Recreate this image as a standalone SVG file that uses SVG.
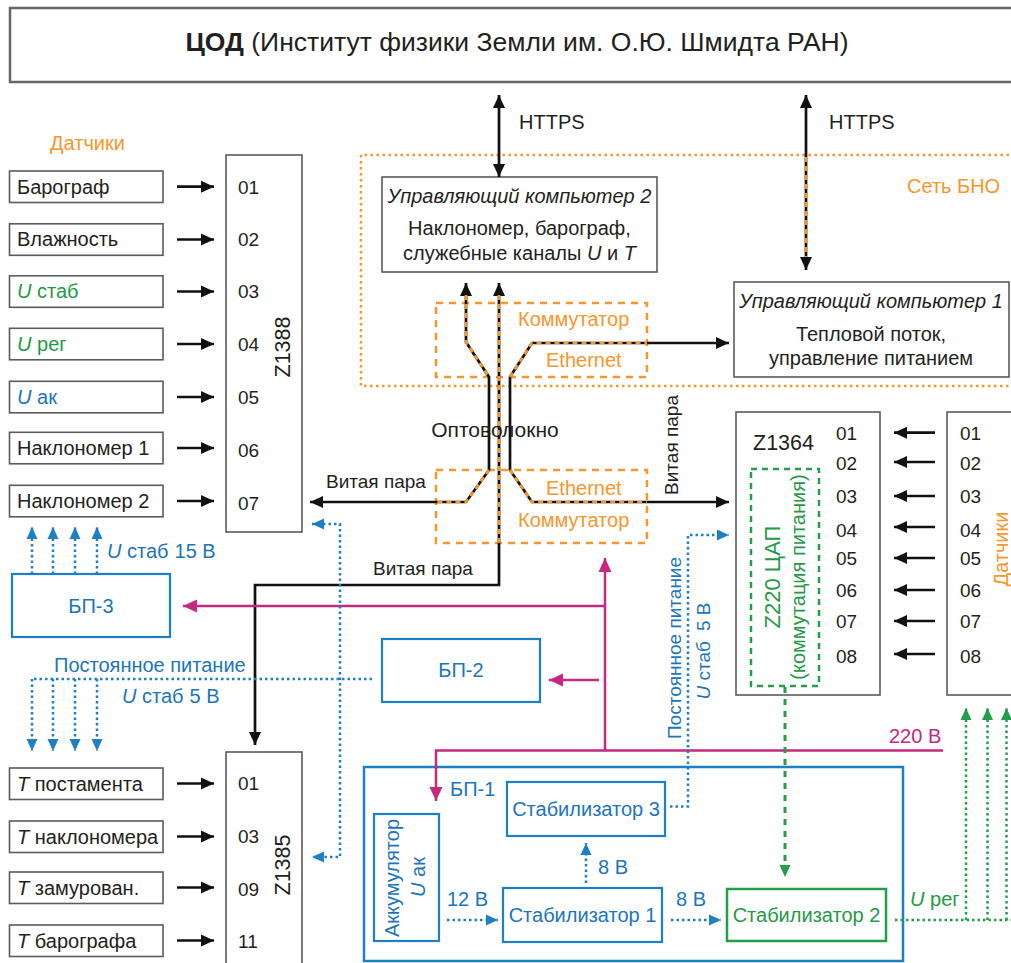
<svg xmlns="http://www.w3.org/2000/svg" width="1011" height="963" viewBox="0 0 1011 963">
<style>
text{font-family:"Liberation Sans",Arial,Helvetica,sans-serif;font-size:20px;fill:#231f20}
.n{font-size:19px}
.z{font-size:21.5px}
.s19{font-size:19px}
.or{fill:#f7962b}
.bl{fill:#1b75bc}
.gr{fill:#1f9a45}
.mg{fill:#c4287f}
.it{font-style:italic}
.mid{text-anchor:middle}
.box{fill:#fff;stroke:#5b5b5b;stroke-width:1.6}
.bbox{fill:#fff;stroke:#1d7fc4;stroke-width:2.2}
.gbox{fill:#fff;stroke:#21a049;stroke-width:2.5}
.odash{fill:none;stroke:#f7962b;stroke-width:2.5;stroke-dasharray:7 6}
.gdbox{fill:none;stroke:#21a049;stroke-width:2.5;stroke-dasharray:6 5}
.odot{fill:none;stroke:#f7962b;stroke-width:2.5;stroke-dasharray:2.5 3.5}
.blk{fill:none;stroke:#111;stroke-width:2.7}
.ov{fill:none;stroke:#f7962b;stroke-width:2.7;stroke-dasharray:5 4}
.bdot{fill:none;stroke:#1d7fc4;stroke-width:2.5;stroke-dasharray:2.5 3}
.gdot{fill:none;stroke:#21a049;stroke-width:2.5;stroke-dasharray:2.5 3}
.gdash{fill:none;stroke:#21a049;stroke-width:3;stroke-dasharray:6 6}
.mag{fill:none;stroke:#c4287f;stroke-width:2.5}
</style>
<defs>
<marker id="mk" viewBox="0 0 13 13" refX="13" refY="6.5" markerWidth="13" markerHeight="13" markerUnits="userSpaceOnUse" orient="auto-start-reverse"><path d="M0,0.5L13,6.5L0,12.5z" fill="#111"/></marker>
<marker id="mb" viewBox="0 0 12 12" refX="12" refY="6" markerWidth="12" markerHeight="12" markerUnits="userSpaceOnUse" orient="auto-start-reverse"><path d="M0,0.5L12,6L0,11.5z" fill="#1d7fc4"/></marker>
<marker id="mgr" viewBox="0 0 12 12" refX="12" refY="6" markerWidth="12" markerHeight="12" markerUnits="userSpaceOnUse" orient="auto-start-reverse"><path d="M0,0.5L12,6L0,11.5z" fill="#21a049"/></marker>
<marker id="mm" viewBox="0 0 14 14" refX="14" refY="7" markerWidth="14" markerHeight="14" markerUnits="userSpaceOnUse" orient="auto-start-reverse"><path d="M0,0.5L14,7L0,13.5z" fill="#c4287f"/></marker>
</defs>

<rect width="1011" height="963" fill="#fff"/>

<g id="title">
<rect x="10" y="8" width="1010" height="74" fill="#fff" stroke="#666" stroke-width="2.5"/>
<text x="517" y="51" class="mid" style="font-size:26.5px"><tspan font-weight="bold">ЦОД</tspan> (Институт физики Земли им. О.Ю. Шмидта РАН)</text>
</g>

<g id="net-bno">
<path class="odot" d="M1015,155H361V386H1015"/>
<text x="907" y="193" class="or">Сеть БНО</text>
</g>

<g id="switch-top">
<rect class="odash" x="436" y="303" width="211" height="74"/>
<text x="518" y="326" class="or">Коммутатор</text>
<text x="546" y="367" class="or">Ethernet</text>
</g>
<g id="switch-bottom">
<rect class="odash" x="436" y="470" width="211" height="73"/>
<text x="546" y="495" class="or">Ethernet</text>
<text x="518" y="527" class="or">Коммутатор</text>
</g>

<g id="pc2">
<rect class="box" x="382" y="177" width="275" height="95"/>
<text x="519.5" y="203" class="mid it">Управляющий компьютер 2</text>
<text x="519.5" y="235" class="mid">Наклономер, барограф,</text>
<text x="519.5" y="260" class="mid">служебные каналы <tspan class="it">U</tspan> и <tspan class="it">T</tspan></text>
</g>

<g id="pc1">
<rect class="box" x="734" y="282" width="275" height="95"/>
<text x="871" y="308" class="mid it">Управляющий компьютер 1</text>
<text x="871" y="341" class="mid">Тепловой поток,</text>
<text x="871" y="365" class="mid">управление питанием</text>
</g>

<g id="sensors-left">
<text x="50" y="150" class="or">Датчики</text>
<rect class="box" x="9.5" y="171" width="153.5" height="31.5"/>
<text x="17" y="193.5">Барограф</text>
<rect class="box" x="9.5" y="223.8" width="153.5" height="31.5"/>
<text x="17" y="246.3">Влажность</text>
<rect class="box" x="9.5" y="275.8" width="153.5" height="31.5"/>
<text x="17" y="298.3" class="gr"><tspan class="it">U</tspan> стаб</text>
<rect class="box" x="9.5" y="328.3" width="153.5" height="31.5"/>
<text x="17" y="350.8" class="gr"><tspan class="it">U</tspan> рег</text>
<rect class="box" x="9.5" y="381.3" width="153.5" height="31.5"/>
<text x="17" y="403.8" class="bl"><tspan class="it">U</tspan> ак</text>
<rect class="box" x="9.5" y="432.3" width="153.5" height="31.5"/>
<text x="17" y="454.8">Наклономер 1</text>
<rect class="box" x="9.5" y="485.3" width="153.5" height="31.5"/>
<text x="17" y="507.8">Наклономер 2</text>
</g>

<g id="z1388">
<rect class="box" x="226" y="155" width="76" height="377"/>
<text x="238" y="193.5" class="n">01</text>
<text x="238" y="245.5" class="n">02</text>
<text x="238" y="298" class="n">03</text>
<text x="238" y="351" class="n">04</text>
<text x="238" y="404" class="n">05</text>
<text x="238" y="457" class="n">06</text>
<text x="238" y="510" class="n">07</text>
<text transform="translate(290,347) rotate(-90)" class="mid z">Z1388</text>
</g>

<g id="bp3">
<rect class="bbox" x="12" y="574" width="158" height="63"/>
<text x="91" y="613" class="mid bl">БП-3</text>
</g>

<g id="bp2">
<rect class="bbox" x="382" y="639" width="158" height="63"/>
<text x="461" y="677" class="mid bl">БП-2</text>
</g>

<g id="sensors-bottom">
<rect class="box" x="9.5" y="768" width="153.5" height="31.5"/>
<text x="17" y="790.5"><tspan class="it">T</tspan> постамента</text>
<rect class="box" x="9.5" y="821" width="153.5" height="31.5"/>
<text x="17" y="843.5"><tspan class="it">T</tspan> наклономера</text>
<rect class="box" x="9.5" y="872" width="153.5" height="31.5"/>
<text x="17" y="894.5"><tspan class="it">T</tspan> замурован.</text>
<rect class="box" x="9.5" y="925" width="153.5" height="31.5"/>
<text x="17" y="947.5"><tspan class="it">T</tspan> барографа</text>
</g>

<g id="z1385">
<rect class="box" x="226" y="752" width="76" height="220"/>
<text x="238" y="790" class="n">01</text>
<text x="238" y="843" class="n">03</text>
<text x="238" y="896" class="n">09</text>
<text x="238" y="947.5" class="n">11</text>
<text transform="translate(290,865) rotate(-90)" class="mid z">Z1385</text>
</g>

<g id="z1364">
<rect class="box" x="736" y="412" width="144" height="283"/>
<text x="753" y="449.5" class="z">Z1364</text>
<text x="836" y="439.5" class="n">01</text>
<text x="836" y="469.7" class="n">02</text>
<text x="836" y="502.7" class="n">03</text>
<text x="836" y="536.7" class="n">04</text>
<text x="836" y="564.7" class="n">05</text>
<text x="836" y="596.7" class="n">06</text>
<text x="836" y="628.4" class="n">07</text>
<text x="836" y="662.7" class="n">08</text>
<rect class="gdbox" x="751" y="469" width="68" height="217"/>
<text transform="translate(780,577) rotate(-90)" class="mid gr" style="font-size:22px">Z220 ЦАП</text>
<text transform="translate(805,577) rotate(-90)" class="mid gr">(коммутация питания)</text>
</g>

<g id="sensors-right">
<rect class="box" x="947" y="412" width="80" height="283"/>
<text x="960" y="439.5" class="n">01</text>
<text x="960" y="469.7" class="n">02</text>
<text x="960" y="502.7" class="n">03</text>
<text x="960" y="536.7" class="n">04</text>
<text x="960" y="564.7" class="n">05</text>
<text x="960" y="596.7" class="n">06</text>
<text x="960" y="628.4" class="n">07</text>
<text x="960" y="662.7" class="n">08</text>
<text transform="translate(1008,549) rotate(-90)" class="mid or">Датчики</text>
</g>

<g id="bp1">
<rect fill="none" stroke="#1d7fc4" stroke-width="2.5" x="364" y="767" width="539" height="194"/>
<text x="450" y="796" class="bl">БП-1</text>
</g>
<g id="stab3">
<rect class="bbox" x="507" y="782" width="158" height="54"/>
<text x="586" y="815.5" class="mid bl">Стабилизатор 3</text>
</g>
<g id="akk">
<rect class="bbox" x="374" y="814" width="65" height="127"/>
<text transform="translate(399,878) rotate(-90)" class="mid bl">Аккумулятор</text>
<text transform="translate(425,877) rotate(-90)" class="mid bl"><tspan class="it">U</tspan> ак</text>
</g>
<g id="stab1">
<rect class="bbox" x="503" y="888" width="159" height="54"/>
<text x="582.5" y="921.5" class="mid bl">Стабилизатор 1</text>
</g>
<g id="stab2">
<rect class="gbox" x="727" y="889" width="159" height="52"/>
<text x="806.5" y="921.5" class="mid gr">Стабилизатор 2</text>
</g>

<g id="connectors">
<!-- HTTPS -->
<path class="blk" d="M499,95V177" marker-start="url(#mk)" marker-end="url(#mk)"/>
<path class="blk" d="M806,95V270" marker-start="url(#mk)" marker-end="url(#mk)"/>
<path class="ov" d="M806,157V257"/>
<!-- fibre / twisted pair -->
<path class="blk" d="M310,502H466L489,470V377L466,342V283" marker-start="url(#mk)" marker-end="url(#mk)"/>
<path class="blk" d="M499,283V585H255V745" marker-start="url(#mk)" marker-end="url(#mk)"/>
<path class="blk" d="M729,343H532L510,377V470L532,502H729" marker-start="url(#mk)" marker-end="url(#mk)"/>
<path class="ov" d="M466,295V342L489,377"/>
<path class="ov" d="M489,470L466,502H436"/>
<path class="ov" d="M499,295V543"/>
<path class="ov" d="M510,377L532,343H647"/>
<path class="ov" d="M510,470L532,502H647"/>
<!-- sensor arrows left -->
<path class="blk" d="M177,186.7H214" marker-end="url(#mk)"/>
<path class="blk" d="M177,239.5H214" marker-end="url(#mk)"/>
<path class="blk" d="M177,291.5H214" marker-end="url(#mk)"/>
<path class="blk" d="M177,344H214" marker-end="url(#mk)"/>
<path class="blk" d="M177,397H214" marker-end="url(#mk)"/>
<path class="blk" d="M177,448H214" marker-end="url(#mk)"/>
<path class="blk" d="M177,501H214" marker-end="url(#mk)"/>
<path class="blk" d="M177,783.5H214" marker-end="url(#mk)"/>
<path class="blk" d="M177,836.5H214" marker-end="url(#mk)"/>
<path class="blk" d="M177,887.5H214" marker-end="url(#mk)"/>
<path class="blk" d="M177,940.5H214" marker-end="url(#mk)"/>
<!-- sensor arrows right -->
<path class="blk" d="M935,432.7H894" marker-end="url(#mk)"/>
<path class="blk" d="M935,462H894" marker-end="url(#mk)"/>
<path class="blk" d="M935,496H894" marker-end="url(#mk)"/>
<path class="blk" d="M935,527H894" marker-end="url(#mk)"/>
<path class="blk" d="M935,558H894" marker-end="url(#mk)"/>
<path class="blk" d="M935,590H894" marker-end="url(#mk)"/>
<path class="blk" d="M935,621H894" marker-end="url(#mk)"/>
<path class="blk" d="M935,654H894" marker-end="url(#mk)"/>
<!-- 220 V mains -->
<path class="mag" d="M943,750.5H436V801" marker-end="url(#mm)"/>
<path class="mag" d="M605,750.5V558" marker-end="url(#mm)"/>
<path class="mag" d="M605,606H183" marker-end="url(#mm)"/>
<path class="mag" d="M599,680H549" marker-end="url(#mm)"/>
<!-- blue DC -->
<path class="bdot" d="M32,574V527" marker-end="url(#mb)"/>
<path class="bdot" d="M53,574V527" marker-end="url(#mb)"/>
<path class="bdot" d="M75,574V527" marker-end="url(#mb)"/>
<path class="bdot" d="M97,574V527" marker-end="url(#mb)"/>
<path class="bdot" d="M372,679H32"/>
<path class="bdot" d="M32,679V751" marker-end="url(#mb)"/>
<path class="bdot" d="M53,679V751" marker-end="url(#mb)"/>
<path class="bdot" d="M75,679V751" marker-end="url(#mb)"/>
<path class="bdot" d="M97,679V751" marker-end="url(#mb)"/>
<path class="bdot" d="M312,524H340V857H312" marker-start="url(#mb)" marker-end="url(#mb)"/>
<path class="bdot" d="M670,806.5H688V535H729" marker-end="url(#mb)"/>
<path class="bdot" d="M447,920H498" marker-end="url(#mb)"/>
<path class="bdot" d="M586,883V843" marker-end="url(#mb)"/>
<path class="bdot" d="M671,920H721" marker-end="url(#mb)"/>
<!-- green -->
<path class="gdash" d="M785,687V877" marker-end="url(#mgr)"/>
<path class="gdot" d="M895,920H1015"/>
<path class="gdot" d="M966,920V708" marker-end="url(#mgr)"/>
<path class="gdot" d="M987.5,920V708" marker-end="url(#mgr)"/>
<path class="gdot" d="M1006.5,920V708" marker-end="url(#mgr)"/>
</g>

<g id="labels">
<text x="519" y="129">HTTPS</text>
<text x="829" y="129">HTTPS</text>
<text x="495" y="437" class="mid" style="font-size:21px">Оптоволокно</text>
<text x="326" y="488" class="s19">Витая пара</text>
<text x="373" y="575" class="s19">Витая пара</text>
<text transform="translate(678,445) rotate(-90)" class="mid s19">Витая пара</text>
<text transform="translate(681,648) rotate(-90)" class="mid bl s19">Постоянное питание</text>
<text transform="translate(710,651) rotate(-90)" class="mid bl s19"><tspan class="it">U</tspan> стаб<tspan dx="10">5 В</tspan></text>
<text x="107" y="558" class="bl"><tspan class="it">U</tspan> стаб<tspan dx="6">15 В</tspan></text>
<text x="54" y="671.5" class="bl">Постоянное питание</text>
<text x="122" y="703" class="bl"><tspan class="it">U</tspan> стаб<tspan dx="6">5 В</tspan></text>
<text x="889" y="743" class="mg">220 В</text>
<text x="447" y="906" class="bl">12 В</text>
<text x="598" y="874" class="bl">8 В</text>
<text x="676" y="906" class="bl">8 В</text>
<text x="910" y="906" class="gr"><tspan class="it">U</tspan> рег</text>
</g>
</svg>
